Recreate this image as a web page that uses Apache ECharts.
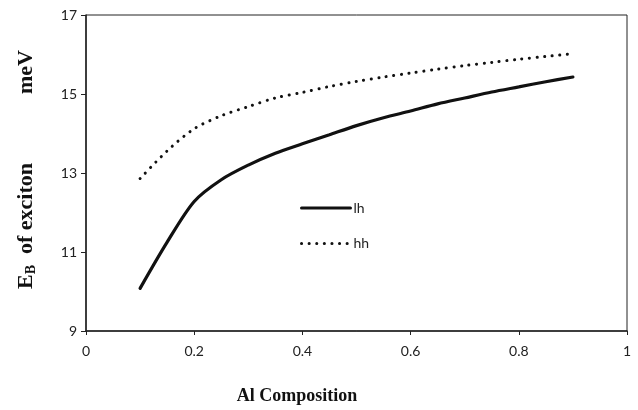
<!DOCTYPE html>
<html>
<head>
<meta charset="utf-8">
<script src="https://cdn.jsdelivr.net/npm/echarts@6/dist/echarts.min.js"></script>
<style>
html,body{margin:0;padding:0;background:#fff;}
#chart{width:638px;height:410px;}
</style>
</head>
<body>
<div id="chart"></div>
<script>
// Data
var composition = [0.1, 0.15, 0.2, 0.25, 0.3, 0.35, 0.4, 0.45, 0.5, 0.55, 0.6, 0.65, 0.7, 0.75, 0.8, 0.85, 0.9];
var lhValues = [10.08, 11.25, 12.28, 12.83, 13.2, 13.5, 13.74, 13.97, 14.2, 14.4, 14.57, 14.75, 14.9, 15.05, 15.18, 15.31, 15.43];
var hhValues = [12.86, 13.56, 14.12, 14.45, 14.68, 14.9, 15.04, 15.19, 15.32, 15.43, 15.53, 15.63, 15.72, 15.8, 15.88, 15.95, 16.02];
var seriesNames = ['lh', 'hh'];
var xTitle = 'Al Composition';

function pairs(xs, ys) { return xs.map(function (x, i) { return [x, ys[i]]; }); }

var chart = echarts.init(document.getElementById('chart'), null, {renderer: 'canvas'});
var tickFont = 'Lato, "Noto Sans", sans-serif';
var titleFont = '"Liberation Serif", "DejaVu Serif", serif';

chart.setOption({
  animation: false,
  backgroundColor: '#fff',
  grid: {left: 86, right: 11, top: 15, bottom: 79, show: true, borderColor: '#222', borderWidth: 1, backgroundColor: 'transparent'},
  legend: {
    orient: 'vertical', left: 300, top: 201, padding: 0,
    itemWidth: 49, itemHeight: 14, itemGap: 21.6,
    data: seriesNames,
    itemStyle: {opacity: 0, color: 'transparent', borderWidth: 0},
    lineStyle: {width: 3, cap: 'round'},
    textStyle: {fontFamily: tickFont, fontSize: 14, color: '#222', padding: [0, 0, 0, -2]}
  },
  xAxis: {
    type: 'value', min: 0, max: 1, interval: 0.2,
    axisLine: {show: true, onZero: false, lineStyle: {color: '#222', width: 1.5}},
    axisTick: {show: true, length: 4, inside: false, lineStyle: {color: '#222', width: 1}},
    axisLabel: {margin: 13, fontFamily: tickFont, fontSize: 14, color: '#222'},
    splitLine: {show: false}
  },
  yAxis: {
    type: 'value', min: 9, max: 17, interval: 2,
    axisLine: {show: true, lineStyle: {color: '#222', width: 1.5}},
    axisTick: {show: true, length: 5, inside: false, lineStyle: {color: '#222', width: 1}},
    axisLabel: {margin: 9, fontFamily: tickFont, fontSize: 14, color: '#222'},
    splitLine: {show: false}
  },
  series: [
    {
      name: seriesNames[0], type: 'line', data: pairs(composition, lhValues),
      smooth: 0.3, symbol: 'none', showSymbol: false,
      lineStyle: {color: '#111', width: 3.2, cap: 'round'},
      itemStyle: {color: '#111'}
    },
    {
      name: seriesNames[1], type: 'line', data: pairs(composition, hhValues),
      smooth: 0.3, symbol: 'none', showSymbol: false,
      lineStyle: {color: '#111', width: 3, type: [0.1, 7.5], cap: 'round'},
      itemStyle: {color: '#111'}
    }
  ],
  graphic: [
    {
      type: 'text', x: 26, y: 72, rotation: Math.PI / 2,
      style: {text: 'meV', font: 'bold 22px ' + titleFont, fill: '#111', align: 'center', verticalAlign: 'middle'}
    },
    {
      type: 'text', x: 26, y: 226, rotation: Math.PI / 2,
      style: {
        text: '{e|E}{s|B}{e|  of exciton}',
        align: 'center', verticalAlign: 'middle',
        rich: {
          e: {font: 'bold 22px ' + titleFont, fill: '#111'},
          s: {font: 'bold 14px ' + titleFont, fill: '#111', verticalAlign: 'bottom', padding: [10, 0, 0, 0]}
        }
      }
    },
    {
      type: 'text', x: 297, y: 396,
      style: {text: xTitle, font: 'bold 18px ' + titleFont, fill: '#111', align: 'center', verticalAlign: 'middle'}
    }
  ]
});
</script>
</body>
</html>
